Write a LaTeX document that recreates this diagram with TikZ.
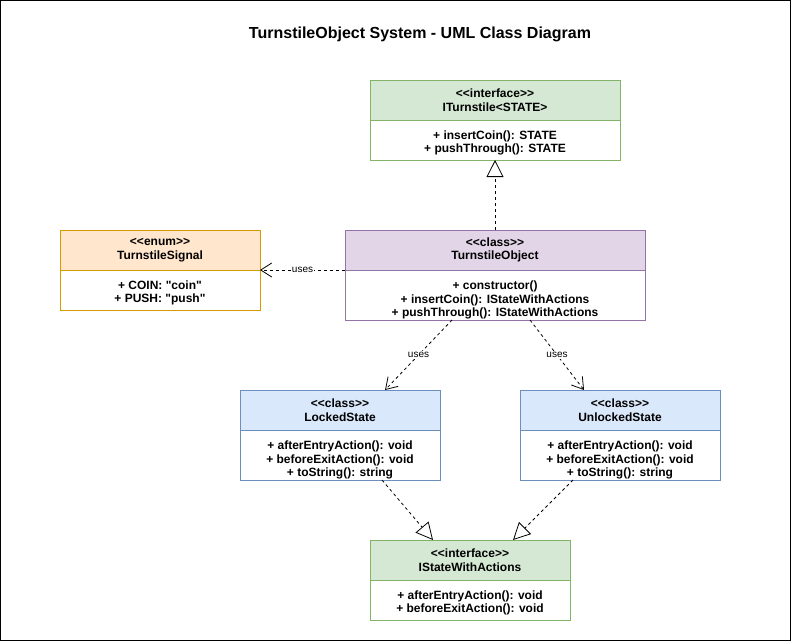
\documentclass[tikz,border=0pt]{standalone}
\usepackage{fontspec}
\newfontfamily\umlfont{Liberation Sans}
\usetikzlibrary{arrows.meta,calc}
\definecolor{greenF}{HTML}{D5E8D4}
\definecolor{greenD}{HTML}{82B366}
\definecolor{purpleF}{HTML}{E1D5E7}
\definecolor{purpleD}{HTML}{9673A6}
\definecolor{orangeF}{HTML}{FFE6CC}
\definecolor{orangeD}{HTML}{D79B00}
\definecolor{blueF}{HTML}{DAE8FC}
\definecolor{blueD}{HTML}{6C8EBF}
\tikzset{
  cbox/.style={rectangle, inner sep=0pt, outer sep=0pt, line width=1pt},
  ctext/.style={inner sep=0pt, align=center, font=\umlfont\bfseries\fontsize{12}{13.5}\selectfont},
  dep/.style={dash pattern=on 3pt off 3pt, line width=0.8pt},
  usesarrow/.style={dep, -{Straight Barb[length=11pt,width=14pt,line width=0.8pt]}},
  realize/.style={dep, -{Triangle[open,length=17pt,width=17pt,line width=0.8pt]}},
  lbl/.style={fill=white, inner sep=1pt, font=\umlfont\fontsize{10}{12}\selectfont}
}
\begin{document}
\begin{tikzpicture}[x=1pt,y=-1pt]
\useasboundingbox (0,0) rectangle (791,641);
\draw[line width=1.2pt] (0.6,0.6) rectangle (790.4,640.4);
\node[font=\umlfont\bfseries\fontsize{16}{18}\selectfont] (title) at (420,34) {TurnstileObject System - UML Class Diagram};

% ITurnstile
\node[cbox, fill=greenF, draw=greenD, minimum width=250pt, minimum height=40pt] (itH) at (495,100) {};
\node[ctext] (itHt) at (itH.center) {<<interface>>\\ITurnstile<STATE>};
\node[cbox, fill=white, draw=greenD, minimum width=250pt, minimum height=40pt] (itB) at (495,140) {};
\node[ctext] (itBt) at ([yshift=-3pt]itB.center) {+ insertCoin(): STATE\\+ pushThrough(): STATE};

% TurnstileObject
\node[cbox, fill=purpleF, draw=purpleD, minimum width=300pt, minimum height=40pt] (toH) at (495,250) {};
\node[ctext] (toHt) at (toH.center) {<<class>>\\TurnstileObject};
\node[cbox, fill=white, draw=purpleD, minimum width=300pt, minimum height=50pt] (toB) at (495,295) {};
\node[ctext] (toBt) at ([yshift=-5pt]toB.center) {+ constructor()\\+ insertCoin(): IStateWithActions\\+ pushThrough(): IStateWithActions};

% TurnstileSignal
\node[cbox, fill=orangeF, draw=orangeD, minimum width=200pt, minimum height=40pt] (tsH) at (160,250) {};
\node[ctext] (tsHt) at (tsH.center) {<<enum>>\\TurnstileSignal};
\node[cbox, fill=white, draw=orangeD, minimum width=200pt, minimum height=40pt] (tsB) at (160,290) {};
\node[ctext] (tsBt) at ([yshift=-3pt]tsB.center) {+ COIN: "coin"\\+ PUSH: "push"};

% LockedState
\node[cbox, fill=blueF, draw=blueD, minimum width=200pt, minimum height=40pt] (lsH) at (340,410) {};
\node[ctext] (lsHt) at (lsH.center) {<<class>>\\LockedState};
\node[cbox, fill=white, draw=blueD, minimum width=200pt, minimum height=50pt] (lsB) at (340,455) {};
\node[ctext] (lsBt) at ([yshift=-5pt]lsB.center) {+ afterEntryAction(): void\\+ beforeExitAction(): void\\+ toString(): string};

% UnlockedState
\node[cbox, fill=blueF, draw=blueD, minimum width=200pt, minimum height=40pt] (usH) at (620,410) {};
\node[ctext] (usHt) at (usH.center) {<<class>>\\UnlockedState};
\node[cbox, fill=white, draw=blueD, minimum width=200pt, minimum height=50pt] (usB) at (620,455) {};
\node[ctext] (usBt) at ([yshift=-5pt]usB.center) {+ afterEntryAction(): void\\+ beforeExitAction(): void\\+ toString(): string};

% IStateWithActions
\node[cbox, fill=greenF, draw=greenD, minimum width=200pt, minimum height=40pt] (isH) at (470,560) {};
\node[ctext] (isHt) at (isH.center) {<<interface>>\\IStateWithActions};
\node[cbox, fill=white, draw=greenD, minimum width=200pt, minimum height=40pt] (isB) at (470,600) {};
\node[ctext] (isBt) at ([yshift=-3pt]isB.center) {+ afterEntryAction(): void\\+ beforeExitAction(): void};

% connectors
\draw[realize] (toH.north) -- (itB.south);
\draw[usesarrow] (toH.south west) -- node[lbl] (u1) {uses} (tsH.south east);
\draw[usesarrow] ([xshift=107pt]toB.south west) -- node[lbl] (u2) {uses} ([xshift=45pt]lsH.north);
\draw[usesarrow] ([xshift=185pt]toB.south west) -- node[lbl] (u3) {uses} ([xshift=-36pt]usH.north);
\draw[realize] ([xshift=42pt]lsB.south) -- ([xshift=-37pt]isH.north);
\draw[realize] ([xshift=-47pt]usB.south) -- ([xshift=43pt]isH.north);
\end{tikzpicture}
\end{document}
